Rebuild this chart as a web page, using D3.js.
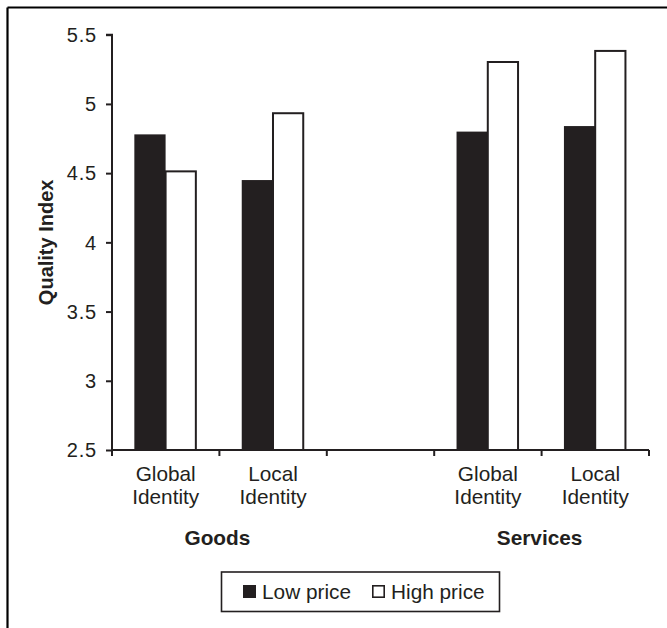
<!DOCTYPE html>
<html>
<head>
<meta charset="utf-8">
<script src="https://cdn.jsdelivr.net/npm/d3@7"></script>
<style>
  html, body { margin: 0; padding: 0; background: #fff; }
  svg { display: block; font-family: "Liberation Sans", Arial, sans-serif; }
</style>
</head>
<body>
<svg id="chart" width="667" height="628"></svg>
<script>
// ---- data ----
const slots = ["Goods-Global", "Goods-Local", "gap", "Services-Global", "Services-Local"];
const slotLabels = [["Global", "Identity"], ["Local", "Identity"], null, ["Global", "Identity"], ["Local", "Identity"]];
const groups = ["Goods", "Services"];
const groupSlots = [["Goods-Global", "Goods-Local"], ["Services-Global", "Services-Local"]];
const series = ["Low price", "High price"];
const lowPrice = [4.78, 4.45, null, 4.80, 4.84];
const highPrice = [4.52, 4.94, null, 5.31, 5.39];
const yTicks = [2.5, 3, 3.5, 4, 4.5, 5, 5.5];
const yTitle = "Quality Index";

// ---- layout ----
(function () {
const ink = "#231f20";
const fs = "20.8px";
const svg = d3.select("#chart");
const pL = 112, pR = 649, pT = 34.7, pB = 450;

const x0 = d3.scaleBand().domain(slots).range([pL, pR]).padding(0);
const bw = x0.bandwidth();
const x1 = d3.scaleBand().domain(series).range([bw * 0.208, bw * 0.79]).padding(0);
const y = d3.scaleLinear().domain([2.5, 5.5]).range([pB, pT]);

// border lines (top and left)
svg.append("line").attr("x1", 7.5).attr("x2", 667).attr("y1", 7.5).attr("y2", 7.5)
  .attr("stroke", "#000").attr("stroke-width", 2.2);
svg.append("line").attr("x1", 7.5).attr("x2", 7.5).attr("y1", 7.5).attr("y2", 628)
  .attr("stroke", "#000").attr("stroke-width", 2.2);

// bars
const rows = slots.map((s, i) => ({ slot: s, vals: [lowPrice[i], highPrice[i]] })).filter(d => d.vals[0] != null);
const g = svg.append("g");
rows.forEach(r => {
  series.forEach((s, j) => {
    const v = r.vals[j];
    const bx = x0(r.slot) + x1(s);
    if (j === 0) {
      g.append("rect").attr("x", bx).attr("y", y(v)).attr("width", x1.bandwidth()).attr("height", y(2.5) - y(v))
        .attr("fill", ink);
    } else {
      g.append("rect").attr("x", bx).attr("y", y(v) + 1).attr("width", x1.bandwidth() - 1).attr("height", y(2.5) - y(v) - 1)
        .attr("fill", "#fff").attr("stroke", ink).attr("stroke-width", 2);
    }
  });
});

// y axis
const yAxis = d3.axisLeft(y).tickValues(yTicks).tickSize(6).tickPadding(9)
  .tickFormat(d => String(d));
const ya = svg.append("g").attr("transform", `translate(${pL},0)`).call(yAxis);
ya.select(".domain").attr("stroke", ink).attr("stroke-width", 2).attr("d", `M-6,${pT}H0V${pB}`);
ya.selectAll(".tick line").attr("stroke", ink).attr("stroke-width", 2);
ya.selectAll(".tick text").attr("fill", ink).attr("dy", "0.34em").style("font-size", "20px")
  .style("letter-spacing", "0.8px").style("font-family", "Liberation Sans, Arial, sans-serif");

// x axis baseline and boundary ticks
svg.append("line").attr("x1", pL).attr("x2", pR).attr("y1", pB).attr("y2", pB)
  .attr("stroke", ink).attr("stroke-width", 2);
const bounds = slots.map(s => x0(s)).concat([x0(slots[slots.length - 1]) + bw]);
svg.selectAll(".btick").data(bounds).join("line")
  .attr("x1", d => d).attr("x2", d => d).attr("y1", pB).attr("y2", pB + 6)
  .attr("stroke", ink).attr("stroke-width", 2);

// category labels
slots.forEach((s, i) => {
  if (!slotLabels[i]) return;
  const t = svg.append("text").attr("x", x0(s) + bw / 2).attr("y", 481)
    .attr("text-anchor", "middle").attr("fill", ink).style("font-size", fs);
  slotLabels[i].forEach((ln, k) => {
    t.append("tspan").attr("x", x0(s) + bw / 2).attr("y", 481 + k * 23).text(ln);
  });
});

// group labels
groups.forEach((gname, i) => {
  const a = x0(groupSlots[i][0]), b = x0(groupSlots[i][1]) + bw;
  svg.append("text").attr("x", (a + b) / 2 - 2).attr("y", 545).attr("text-anchor", "middle")
    .attr("fill", ink).style("font-size", fs).style("font-weight", "bold").text(gname);
});

// y title
svg.append("text").attr("transform", `translate(53,${(pT + pB) / 2}) rotate(-90)`)
  .attr("text-anchor", "middle").attr("fill", ink).style("font-size", "20px").style("font-weight", "bold").text(yTitle);

// legend
const lg = svg.append("g");
lg.append("rect").attr("x", 221.5).attr("y", 572).attr("width", 278).attr("height", 39.5)
  .attr("fill", "#fff").attr("stroke", ink).attr("stroke-width", 1.6);
const legX = [243, 372];
series.forEach((s, j) => {
  if (j === 0) {
    lg.append("rect").attr("x", legX[j]).attr("y", 585).attr("width", 13).attr("height", 13).attr("fill", ink);
  } else {
    lg.append("rect").attr("x", legX[j] + 0.8).attr("y", 585.8).attr("width", 11.4).attr("height", 11.4)
      .attr("fill", "#fff").attr("stroke", ink).attr("stroke-width", 1.6);
  }
  lg.append("text").attr("x", legX[j] + 19).attr("y", 598.5).attr("fill", ink)
    .style("font-size", fs).text(s);
});
})();
</script>
</body>
</html>
